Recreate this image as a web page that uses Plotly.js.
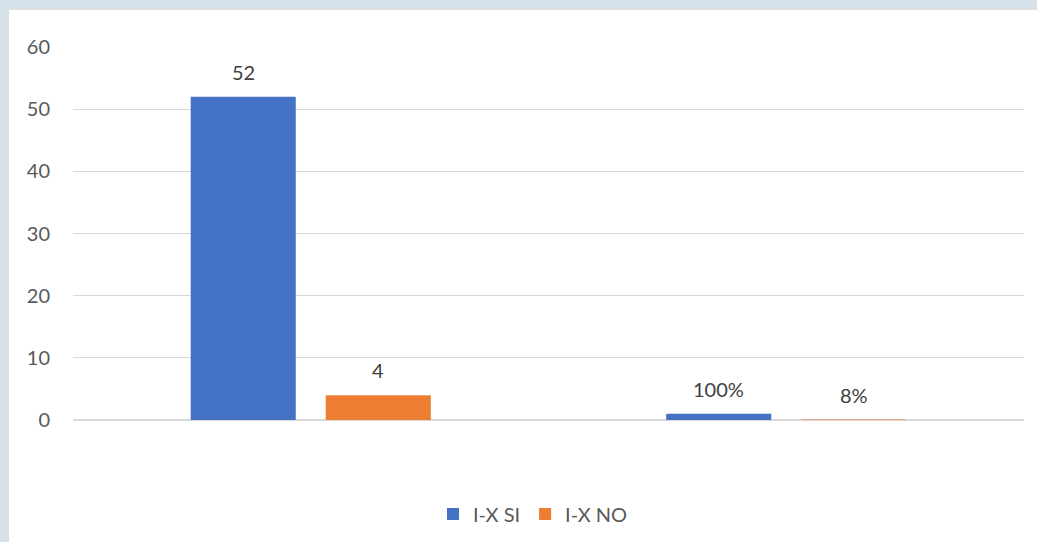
<!DOCTYPE html>
<html>
<head>
<meta charset="utf-8">
<script src="https://cdn.plot.ly/plotly-3.0.1.min.js"></script>
<style>
  html, body { margin: 0; padding: 0; background: #d6e2ea; width: 1037px; height: 542px; overflow: hidden; }
  #chart { position: absolute; left: 8px; top: 9px; width: 1028px; height: 532px; border-left: 1px solid #dedede; border-top: 1px solid #dedede; background: #fff; }
</style>
</head>
<body>
<div id="chart"></div>
<script>
// Data
const categories = ["Cantidad", "Porcentaje"];
const seriesNames = ["I-X SI", "I-X NO"];
const siValues = [52, 1];
const noValues = [4, 0.08];
const siLabels = ["52", "100%"];
const noLabels = ["4", "8%"];
const yTicks = [0, 10, 20, 30, 40, 50, 60];

const colors = ["#4472C4", "#ED7D31"];
const fontFamily = "Lato, 'Noto Sans', sans-serif";

const bargap = 0.432;
const slot = (1 - bargap) / 2; // width of each series slot in category units

const traces = [
  { type: "bar", name: seriesNames[0], x: categories, y: siValues, marker: { color: colors[0] }, hoverinfo: "none" },
  { type: "bar", name: seriesNames[1], x: categories, y: noValues, marker: { color: colors[1] }, hoverinfo: "none" }
];

const annotations = [];
[[siValues, siLabels, -1], [noValues, noLabels, 1]].forEach(([vals, labels, side]) => {
  vals.forEach((v, i) => {
    annotations.push({
      xref: "x", yref: "y",
      x: i + side * slot / 2,
      y: v,
      text: labels[i],
      showarrow: false,
      yanchor: "middle",
      xanchor: "center",
      yshift: 25,
      font: { family: fontFamily, size: 20, color: "#404040" }
    });
  });
});

const layout = {
  width: 1028, height: 532,
  margin: { l: 64, r: 13, t: 37, b: 122, autoexpand: false },
  paper_bgcolor: "#ffffff",
  plot_bgcolor: "#ffffff",
  barmode: "group",
  bargap: bargap,
  bargroupgap: 0.222,
  showlegend: true,
  legend: {
    orientation: "h",
    x: 0.4837, xanchor: "center",
    yref: "container",
    y: 0.0526, yanchor: "middle",
    font: { family: fontFamily, size: 20, color: "#595959" },
    itemclick: false
  },
  xaxis: {
    type: "category",
    showticklabels: false,
    showgrid: false,
    zeroline: false,
    showline: false,
    ticks: ""
  },
  yaxis: {
    range: [0, 60],
    tickvals: yTicks,
    ticktext: yTicks.map(String),
    showgrid: true,
    gridcolor: "#d9d9d9",
    gridwidth: 1.3,
    zeroline: true,
    zerolinecolor: "#d9d9d9",
    zerolinewidth: 1.3,
    showline: false,
    ticks: "",
    ticklabelstandoff: 22,
    tickfont: { family: fontFamily, size: 20, color: "#595959" }
  },
  annotations: annotations
};

Plotly.newPlot("chart", traces, layout, { displayModeBar: false, staticPlot: true });
</script>
</body>
</html>
